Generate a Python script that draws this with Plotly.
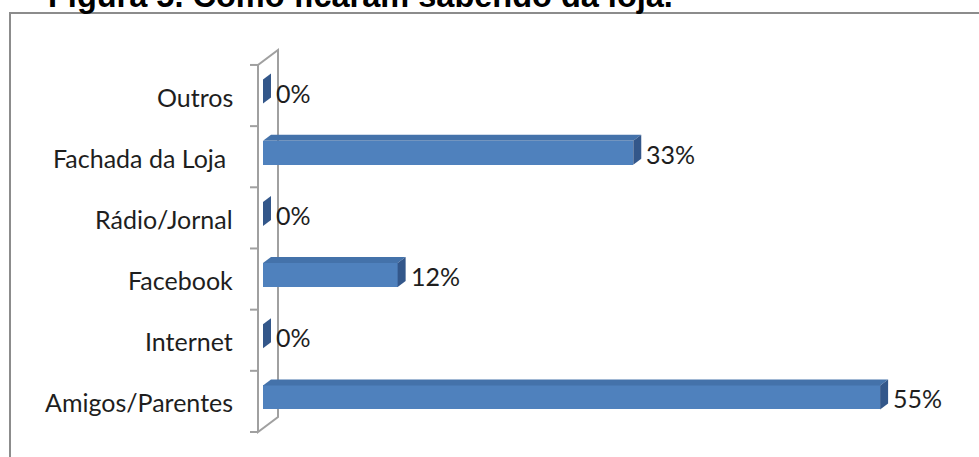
import plotly.graph_objects as go

# ---- data (bottom to top, as drawn) ----
categories = ["Amigos/Parentes", "Internet", "Facebook", "Rádio/Jornal", "Fachada da Loja\u00a0", "Outros"]
values = [55, 0, 12, 0, 33, 0]
value_labels = ["55%", "0%", "12%", "0%", "33%", "0%"]
title_text = "Figura 5. Como ficaram sabendo da loja."

# ---- layout geometry (pixel scale of the picture) ----
W, H = 979, 457
PX0, SX = 263.0, 11.22      # pixel of 0 %, pixels per %
PY0, SY = 401.4, 61.17      # pixel of first category centre, pixels per category
def dx(px): return px / SX
def dy(px): return px / SY

FRONT = "#4F81BD"
TOP = "#4472AA"
SIDE = "#33578A"
WALL = "#A0A0A0"

ypos = list(range(len(categories)))
bar_lo, bar_hi = -dy(8), dy(16)       # front face extent around category centre
ddx, ddy = dx(8), dy(6)               # bar depth offset

fig = go.Figure()

# front faces
fig.add_trace(go.Bar(
    x=values, y=ypos, orientation="h", base=0,
    width=bar_hi - bar_lo, offset=bar_lo,
    marker=dict(color=FRONT, line=dict(width=0)),
    hoverinfo="skip", showlegend=False,
))

# top + side faces
for v, y in zip(values, ypos):
    yt, yb = y + bar_hi, y + bar_lo
    if v > 0:
        fig.add_trace(go.Scatter(
            x=[0, ddx, v + ddx, v, 0], y=[yt, yt + ddy, yt + ddy, yt, yt],
            fill="toself", fillcolor=TOP, mode="lines", line=dict(width=0, color=TOP),
            hoverinfo="skip", showlegend=False))
    fig.add_trace(go.Scatter(
        x=[v, v + ddx, v + ddx, v, v], y=[yt, yt + ddy, yb + ddy, yb, yt],
        fill="toself", fillcolor=SIDE, mode="lines", line=dict(width=0, color=SIDE),
        hoverinfo="skip", showlegend=False))

shapes = []
# outer frame
shapes.append(dict(type="rect", xref="paper", yref="paper",
                   x0=10 / W, x1=1.05, y0=-0.1, y1=1 - 13 / H,
                   line=dict(color="#8C8C8C", width=2), layer="below"))
# 3D wall
wx0 = dx(-5)
wdx, wdy = dx(20), dy(15)
yb_w, yt_w = -0.5, len(categories) - 0.5
wall_path = (f"M {wx0},{yb_w} L {wx0},{yt_w} L {wx0 + wdx},{yt_w + wdy} "
             f"L {wx0 + wdx},{yb_w + wdy} Z")
shapes.append(dict(type="path", xref="x", yref="y", path=wall_path,
                   line=dict(color=WALL, width=2), layer="below"))
for k in range(len(categories) + 1):
    yk = k - 0.5
    shapes.append(dict(type="line", xref="x", yref="y", x0=dx(-13), x1=wx0, y0=yk, y1=yk,
                       line=dict(color=WALL, width=2), layer="below"))

annotations = []
for c, y in zip(categories, ypos):
    annotations.append(dict(x=dx(-28), y=y, xref="x", yref="y", text=c, showarrow=False,
                            xanchor="right", yanchor="middle", yshift=-1,
                            font=dict(family="Lato", size=25, color="#1E1E1E")))
for v, y, t in zip(values, ypos, value_labels):
    annotations.append(dict(x=v + ddx, y=y, xref="x", yref="y", text=t, showarrow=False,
                            xanchor="left", yanchor="middle", xshift=3, yshift=3,
                            font=dict(family="Lato", size=25, color="#1E1E1E")))
annotations.append(dict(x=46 / W, y=1 - 16 / H, xref="paper", yref="paper",
                        text="<b>" + title_text + "</b>",
                        showarrow=False, xanchor="left", yanchor="bottom",
                        font=dict(family="Liberation Sans", size=32.5, color="#000000")))

fig.update_layout(
    width=W, height=H,
    margin=dict(l=0, r=0, t=0, b=0),
    paper_bgcolor="white", plot_bgcolor="white",
    xaxis=dict(range=[(0 - PX0) / SX, (W - PX0) / SX], visible=False, fixedrange=True),
    yaxis=dict(range=[(PY0 - H) / SY, PY0 / SY], visible=False, fixedrange=True),
    shapes=shapes, annotations=annotations, bargap=0,
)

fig.write_html("out.html")
